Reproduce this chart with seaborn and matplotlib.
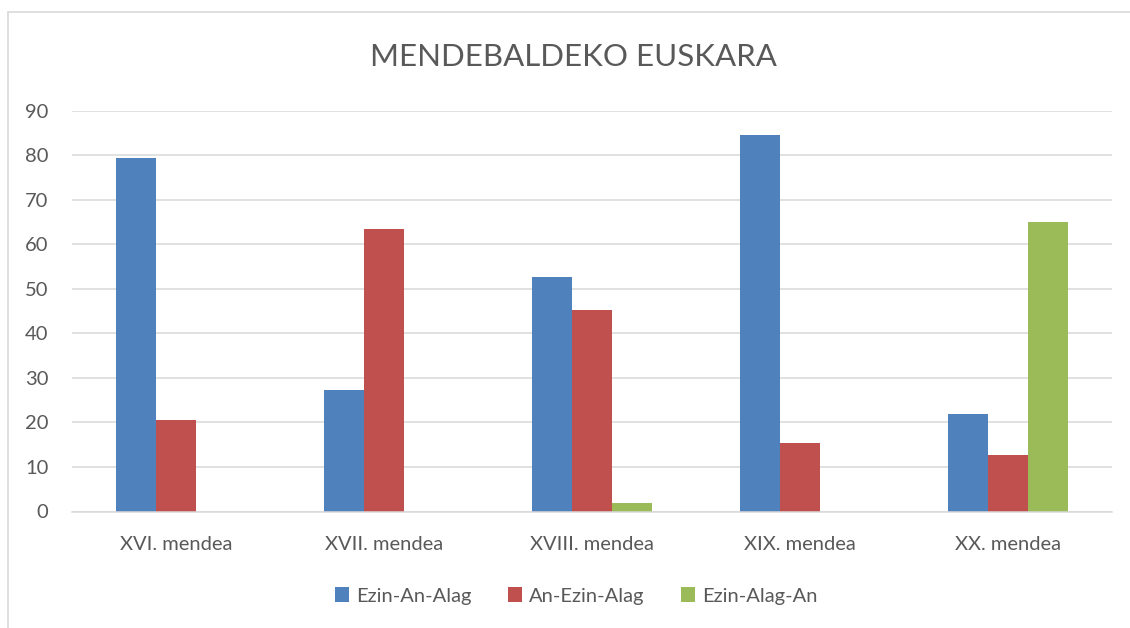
import matplotlib
matplotlib.use("Agg")
import matplotlib.pyplot as plt
import matplotlib.patches as mpatches
from matplotlib.lines import Line2D
import seaborn as sns
import pandas as pd

categories = ["XVI. mendea", "XVII. mendea", "XVIII. mendea", "XIX. mendea", "XX. mendea"]
series_names = ["Ezin-An-Alag", "An-Ezin-Alag", "Ezin-Alag-An"]
ezin_an_alag = [79.3, 27.2, 52.7, 84.5, 21.9]
an_ezin_alag = [20.5, 63.5, 45.3, 15.3, 12.8]
ezin_alag_an = [0, 0, 1.8, 0, 65.0]
colors = ["#4F81BD", "#C0504D", "#9BBB59"]
title = "MENDEBALDEKO EUSKARA"

rows = []
for name, vals in zip(series_names, [ezin_an_alag, an_ezin_alag, ezin_alag_an]):
    for c, v in zip(categories, vals):
        rows.append({"cat": c, "serie": name, "val": v})
df = pd.DataFrame(rows)

sns.set_theme(style="white")
plt.rcParams["font.family"] = ["Lato", "DejaVu Sans"]

fig = plt.figure(figsize=(11.3, 6.28), dpi=100)
ax = fig.add_axes([72/1130, 1-511.5/628, (1112-72)/1130, (511.5-110.8)/628])

sns.barplot(data=df, x="cat", y="val", hue="serie", order=categories,
            hue_order=series_names, palette=colors, width=0.577,
            saturation=1, linewidth=0, ax=ax, legend=False)

ax.set_ylim(0, 90)
ax.set_xlim(-0.5, 4.5)
ax.set_yticks(range(0, 91, 10))
ax.yaxis.grid(True, color="#D9D9D9", linewidth=1.1)
ax.set_axisbelow(True)
for s in ["top", "right", "left"]:
    ax.spines[s].set_visible(False)
ax.spines["bottom"].set_color("#D9D9D9")
ax.spines["bottom"].set_linewidth(1.1)
ax.tick_params(axis="both", length=0, labelsize=14.5, labelcolor="#595959")
ax.tick_params(axis="y", pad=17)
ax.tick_params(axis="x", pad=18)
ax.set_xlabel("")
ax.set_ylabel("")

fig.text(573/1130, 1-57/628, title, ha="center", va="center",
         fontsize=22.5, color="#595959", fontweight="normal")

handles = [mpatches.Patch(facecolor=c, edgecolor="none", label=n) for c, n in zip(colors, series_names)]
fig.legend(handles=handles, loc="center", bbox_to_anchor=(576/1130, 1-596/628),
           ncol=3, frameon=False, fontsize=14.5, labelcolor="#595959",
           handlelength=0.7, handleheight=0.7, handletextpad=0.35, columnspacing=1.8)

fig.add_artist(Line2D([8/1130, 1], [1-12/628, 1-12/628], color="#D9D9D9", linewidth=1.2, transform=fig.transFigure))
fig.add_artist(Line2D([8/1130, 8/1130], [0, 1-12/628], color="#D9D9D9", linewidth=1.2, transform=fig.transFigure))

fig.savefig("out.png", dpi=100)
